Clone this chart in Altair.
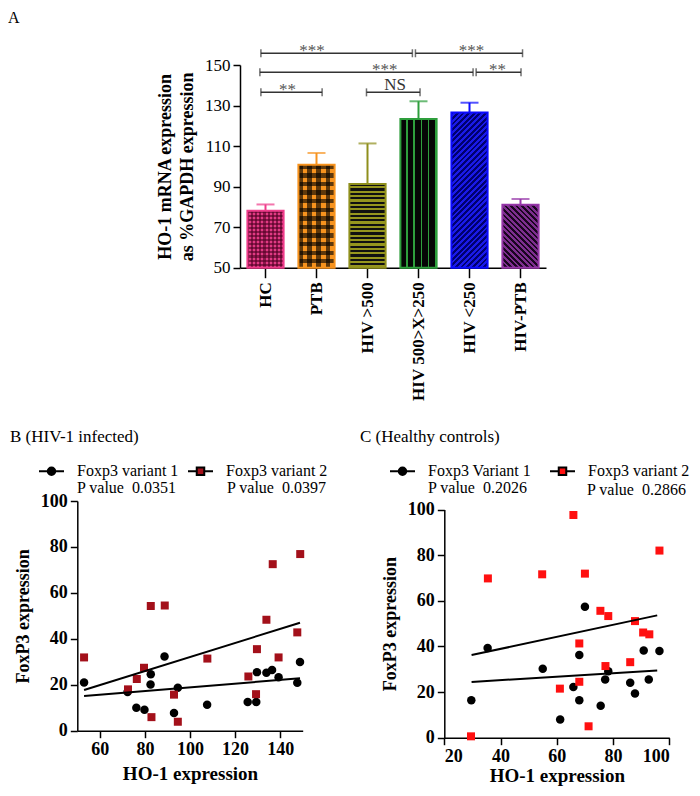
import altair as alt
import pandas as pd

SERIF = "Liberation Serif"

# ---------------- Panel A data ----------------
groups = ["HC", "PTB", "HIV >500", "HIV 500>X>250", "HIV <250", "HIV-PTB"]
means = [78.1, 100.8, 91.3, 123.4, 126.6, 81.1]
upper = [81.2, 106.6, 111.3, 132.1, 131.4, 83.9]

# significance brackets (position in group-index units, y value, label)
br_x1 = [-0.09, 2.94, -0.11, 4.13, -0.09, 1.98]
br_x2 = [2.88, 5.04, 4.07, 5.01, 1.11, 3.03]
br_y = [155.8, 155.8, 146.4, 146.4, 136.5, 136.5]
br_text = ["***", "***", "***", "**", "**", "NS"]
br_text_x = [0.91, 4.04, 2.34, 4.55, 0.43, 2.54]

# ---------------- Panel B data (HIV-1 infected) ----------------
b1_x = [53.0, 72.3, 76.2, 79.8, 82.6, 82.5, 88.7, 92.9, 94.6, 107.6, 125.6, 129.4, 129.7, 133.9, 136.4, 139.3, 147.6, 148.8]
b1_y = [21.0, 16.8, 10.0, 9.1, 24.6, 20.1, 32.3, 7.7, 18.7, 11.3, 12.5, 12.5, 25.5, 25.2, 26.4, 23.3, 20.9, 29.9]
b2_x = [53.0, 72.5, 76.4, 79.6, 82.6, 82.9, 88.8, 92.9, 94.6, 107.7, 125.9, 129.3, 129.7, 133.9, 136.7, 139.3, 147.6, 148.9]
b2_y = [31.9, 18.0, 22.5, 27.4, 54.3, 5.9, 54.5, 15.7, 3.9, 31.4, 23.6, 15.9, 35.5, 48.3, 72.5, 31.9, 42.8, 76.9]
b_fit_x = [53.0, 148.8]
b1_fit_y = [15.1, 22.8]
b2_fit_y = [17.7, 47.0]
b_series = ["Foxp3 variant 1", "Foxp3 variant 2"]
b_pvalues = ["0.0351", "0.0397"]

# ---------------- Panel C data (Healthy controls) ----------------
c1_x = [29.6, 35.4, 55.0, 61.2, 65.9, 68.0, 68.0, 70.0, 75.6, 77.2, 78.3, 86.1, 87.8, 90.9, 92.7, 96.5]
c1_y = [16.4, 39.3, 30.2, 8.0, 22.2, 36.2, 16.4, 57.4, 14.0, 25.5, 29.1, 24.1, 19.4, 38.2, 25.5, 38.0]
c2_x = [29.5, 35.5, 54.8, 61.1, 65.9, 68.0, 68.0, 70.0, 71.3, 75.5, 77.3, 78.3, 86.1, 87.8, 90.7, 92.9, 96.5]
c2_y = [0.6, 69.8, 71.6, 21.5, 97.6, 41.3, 24.5, 71.9, 5.0, 55.6, 31.4, 53.3, 33.1, 51.1, 46.1, 45.3, 82.0]
c_fit_x = [29.7, 95.7]
c1_fit_y = [24.4, 29.5]
c2_fit_y = [36.2, 53.6]
c_series = ["Foxp3 Variant 1", "Foxp3 variant 2"]
c_pvalues = ["0.2026", "0.2866"]

# ---------------- tables ----------------
dfA = pd.DataFrame({"group": groups, "mean": means, "upper": upper})
dfBr = pd.DataFrame({"x1": br_x1, "x2": br_x2, "y": br_y, "text": br_text, "tx": br_text_x})
dfEnds = pd.DataFrame({"x": br_x1 + br_x2, "y": br_y + br_y})
dfB1 = pd.DataFrame({"x": b1_x, "y": b1_y})
dfB2 = pd.DataFrame({"x": b2_x, "y": b2_y})
dfBfit = pd.DataFrame({"x": b_fit_x * 2, "y": b1_fit_y + b2_fit_y,
                       "s": [b_series[0]] * 2 + [b_series[1]] * 2})
dfC1 = pd.DataFrame({"x": c1_x, "y": c1_y})
dfC2 = pd.DataFrame({"x": c2_x, "y": c2_y})
dfCfit = pd.DataFrame({"x": c_fit_x * 2, "y": c1_fit_y + c2_fit_y,
                       "s": [c_series[0]] * 2 + [c_series[1]] * 2})
dfLegB = pd.DataFrame({"s": b_series})
dfLegC = pd.DataFrame({"s": c_series})

# ---------------- styling ----------------
border = ["#ee3c8a", "#f7931e", "#8f8f1c", "#2e9e3c", "#0a0aff", "#9535a8"]
B_RED = "#a3101a"
C_RED = "#ff1010"

A_X0, A_X1 = 232, 538          # band range of panel A (plot coordinates)
A_Y0, A_Y1 = 259.7, 57         # y range of panel A (value 50 -> 150)
PX_PER_UNIT = (A_Y0 - A_Y1) / 100.0
BAR_W = (A_X1 - A_X0) / 6 * 0.71

xA = alt.Scale(domain=groups, range=[A_X0, A_X1], paddingInner=0.29, paddingOuter=0.145)
yA = alt.Scale(domain=[50, 150], range=[A_Y0, A_Y1], nice=False, zero=False)
xIdx = alt.Scale(domain=[-0.5, 5.5], range=[A_X0, A_X1], nice=False, zero=False)

axis_common = dict(domainColor="black", domainWidth=1.5, tickColor="black", tickWidth=1.5,
                   labelColor="black", titleColor="black", grid=False, labelFont=SERIF, titleFont=SERIF)

axA_y = alt.Axis(orient="left", offset=-A_X0, values=[50, 70, 90, 110, 130, 150],
                 title=["HO-1 mRNA expression", "as %GAPDH expression"],
                 titleFontSize=18, titleFontWeight="bold", titleLineHeight=22, titlePadding=8,
                 labelFontSize=17, labelPadding=3, tickSize=7, **axis_common)
axA_x = alt.Axis(orient="bottom", offset=-(780 - A_Y0), title=None, labelAngle=-90,
                 labelFontSize=17, labelFontWeight="bold", labelPadding=4, tickSize=10,
                 labelLimit=300, **axis_common)


def stripes(c_on, c_off, n, frac):
    stops = []
    for k in range(n):
        a, b, c = k / n, (k + frac) / n, (k + 1) / n
        stops += [alt.GradientStop(offset=round(a, 5), color=c_on),
                  alt.GradientStop(offset=round(b, 5), color=c_on),
                  alt.GradientStop(offset=round(b, 5), color=c_off),
                  alt.GradientStop(offset=round(c, 5), color=c_off)]
    return stops


def pattern(kind, c_on, c_off, period, frac, w, h):
    if kind == "h":
        n = max(1, round(h / period))
        return alt.LinearGradient(gradient="linear", stops=stripes(c_on, c_off, n, frac), x1=0, y1=0, x2=0, y2=1)
    if kind == "v":
        n = max(1, round(w / period))
        return alt.LinearGradient(gradient="linear", stops=stripes(c_on, c_off, n, frac), x1=0, y1=0, x2=1, y2=0)
    k = (w + h) / (w * w + h * h)
    gx, gy = w * k, h * k
    n = max(1, round((w + h) / period))
    if kind == "d/":
        return alt.LinearGradient(gradient="linear", stops=stripes(c_on, c_off, n, frac), x1=0, y1=0, x2=gx, y2=gy)
    return alt.LinearGradient(gradient="linear", stops=stripes(c_on, c_off, n, frac), x1=1, y1=0, x2=1 - gx, y2=gy)


CLEAR = "rgba(0,0,0,0)"
PAT = {
    "HC": ("#e23a84", [("v", "rgba(80,0,35,0.6)", CLEAR, 4.0, 0.5), ("h", "rgba(80,0,35,0.6)", CLEAR, 4.0, 0.5)]),
    "PTB": ("#f7931e", [("v", "rgba(0,0,0,0.62)", CLEAR, 8.4, 0.5), ("h", "rgba(0,0,0,0.62)", CLEAR, 8.4, 0.5)]),
    "HIV >500": ("#96961e", [("h", "#111111", CLEAR, 4.4, 0.5)]),
    "HIV 500>X>250": ("#050505", [("v", CLEAR, "#2e9e3c", 7.2, 0.78)]),
    "HIV <250": ("#1a1ae8", [("d/", "#000070", CLEAR, 5.6, 0.5)]),
    "HIV-PTB": ("#7d2e8e", [("d\\", "#1a0520", CLEAR, 5.6, 0.5)]),
}

xA_enc = alt.X("group:N", scale=xA, axis=axA_x, sort=groups)
yA_enc = alt.Y("mean:Q", scale=yA, axis=axA_y)
color_enc = alt.Color("group:N", scale=alt.Scale(domain=groups, range=border), legend=None)

A_layers = []
for g, m in zip(groups, means):
    base_col, overlays = PAT[g]
    h = (m - 50) * PX_PER_UNIT
    src = alt.Chart(dfA).transform_filter(alt.datum.group == g)
    A_layers.append(src.mark_bar(fill=base_col, strokeWidth=0).encode(x=xA_enc, y=yA_enc, y2=alt.datum(50)))
    for kind, c_on, c_off, period, frac in overlays:
        grad = pattern(kind, c_on, c_off, period, frac, BAR_W, h)
        A_layers.append(src.mark_bar(fill=grad, strokeWidth=0).encode(x=xA_enc, y=yA_enc, y2=alt.datum(50)))

A_layers.append(alt.Chart(dfA).mark_bar(fill="transparent", strokeWidth=2).encode(
    x=xA_enc, y=yA_enc, y2=alt.datum(50),
    stroke=alt.Stroke("group:N", scale=alt.Scale(domain=groups, range=border), legend=None)))
A_layers.append(alt.Chart(dfA).mark_rule(strokeWidth=2).encode(
    x=xA_enc, y=yA_enc, y2="upper:Q", color=color_enc))
A_layers.append(alt.Chart(dfA).mark_tick(orient="horizontal", size=18, thickness=2).encode(
    x=xA_enc, y=alt.Y("upper:Q", scale=yA, axis=axA_y), color=color_enc))
A_main = alt.layer(*A_layers)

# brackets
xI = alt.X("x1:Q", scale=xIdx, axis=None)
yI = alt.Y("y:Q", scale=yA, axis=None)
A_ann = alt.layer(
    alt.Chart(dfBr).mark_rule(color="#333333", strokeWidth=1.5).encode(x=xI, x2="x2:Q", y=yI),
    alt.Chart(dfEnds).mark_tick(orient="vertical", size=8, thickness=1.5, color="#333333").encode(
        x=alt.X("x:Q", scale=xIdx, axis=None), y=yI),
    alt.Chart(dfBr).transform_filter(alt.datum.text != "NS").mark_text(
        font=SERIF, fontSize=17, color="#555555", baseline="alphabetic", dy=3).encode(
        x=alt.X("tx:Q", scale=xIdx, axis=None), y=yI, text="text:N"),
    alt.Chart(dfBr).transform_filter(alt.datum.text == "NS").mark_text(
        font=SERIF, fontSize=17, color="#333333", baseline="alphabetic", dy=-2).encode(
        x=alt.X("tx:Q", scale=xIdx, axis=None), y=yI, text="text:N"),
)

# ---------------- scatter panels ----------------
CIRCLE_PATH = "M-1,0L-0.3,0M0.3,0L1,0M0.3,0A0.3,0.3,0,1,1,-0.3,0A0.3,0.3,0,1,1,0.3,0Z"
SQUARE_PATH = "M-1,0L-0.3,0M0.3,0L1,0M-0.3,-0.3L0.3,-0.3L0.3,0.3L-0.3,0.3Z"


def scatter_panel(d1, d2, dfit, dleg, series, red, xdom, xvals, xr, yr, xoff, yoff, legx, legy, colpad,
                  xtitle_pad):
    xs = alt.Scale(domain=xdom, range=xr, nice=False, zero=False)
    ys = alt.Scale(domain=[0, 100], range=yr, nice=False, zero=False)
    ax_x = alt.Axis(orient="bottom", offset=xoff, values=xvals, title="HO-1 expression",
                    titleFontSize=19, titleFontWeight="bold", titlePadding=xtitle_pad,
                    labelFontSize=18, labelFontWeight="bold", labelPadding=3, tickSize=7, **axis_common)
    ax_y = alt.Axis(orient="left", offset=yoff, values=[0, 20, 40, 60, 80, 100], title="FoxP3 expression",
                    titleFontSize=18, titleFontWeight="bold", titlePadding=8,
                    labelFontSize=18, labelFontWeight="bold", labelPadding=3, tickSize=7, **axis_common)
    X = alt.X("x:Q", scale=xs, axis=ax_x)
    Y = alt.Y("y:Q", scale=ys, axis=ax_y)
    leg = alt.Legend(orient="none", legendX=legx, legendY=legy, direction="horizontal", title=None,
                     labelFont=SERIF, labelFontSize=16, labelColor="black", labelLimit=300,
                     symbolSize=625, symbolStrokeWidth=2,
                     labelOffset=12, columnPadding=colpad, padding=0)
    return alt.layer(
        alt.Chart(d1).mark_circle(size=72, color="black", opacity=1).encode(x=X, y=Y),
        alt.Chart(d2).mark_square(size=64, color=red, opacity=1).encode(x=X, y=Y),
        alt.Chart(dfit).mark_line(color="black", strokeWidth=2).encode(x=X, y=Y, detail="s:N"),
        alt.Chart(dleg).transform_filter("false").mark_point(filled=True, opacity=1, strokeWidth=2).encode(
            fill=alt.Fill("s:N", scale=alt.Scale(domain=series, range=["black", red]), legend=leg),
            stroke=alt.Stroke("s:N", scale=alt.Scale(domain=series, range=["black", "black"]), legend=leg),
            shape=alt.Shape("s:N", scale=alt.Scale(domain=series, range=[CIRCLE_PATH, SQUARE_PATH]), legend=leg)),
    )


B_panel = scatter_panel(dfB1, dfB2, dfBfit, dfLegB, b_series, B_RED, [50, 150], [60, 80, 100, 120, 140],
                        [69.3, 294.7], [722.7, 493], -(780 - 722.7), -69.3, 30, 449.5, 5, 6)
C_panel = scatter_panel(dfC1, dfC2, dfCfit, dfLegC, c_series, C_RED, [20, 100], [20, 40, 60, 80, 100],
                        [436.3, 661.3], [729.7, 501.5], -(780 - 729.7), -436.3, 381, 449.5, 14, 1)

# ---------------- text annotations ----------------
_one = pd.DataFrame({"k": [0]})


def note(text, x, y, size, weight="normal", baseline="middle"):
    return alt.Chart(_one).mark_text(text=text, font=SERIF, fontSize=size, fontWeight=weight,
                                     align="left", baseline=baseline, color="black").encode(
        x=alt.value(x), y=alt.value(y))


NB = "\u00a0"
notes = [
    note("A", 0, 15, 16, baseline="alphabetic"),
    note("B (HIV-1 infected)", 2, 429, 17),
    note("C (Healthy controls)", 352, 429, 17),
    note("P value" + NB + " " + b_pvalues[0], 69, 480, 16),
    note("P value" + NB + " " + b_pvalues[1], 219, 480, 16),
    note("P value" + NB + " " + c_pvalues[0], 420, 480, 16),
    note("P value" + NB + " " + c_pvalues[1], 579, 482, 16),
]

chart = alt.layer(A_main, A_ann, B_panel, C_panel, *notes).resolve_scale(
    x="independent", y="independent", color="independent", fill="independent",
    stroke="independent", shape="independent"
).properties(
    width=684, height=780, autosize=alt.AutoSizeParams(type="none"), padding=0
).configure_view(stroke=None)

chart.save("out.html", embed_options={"renderer": "svg", "actions": False})
